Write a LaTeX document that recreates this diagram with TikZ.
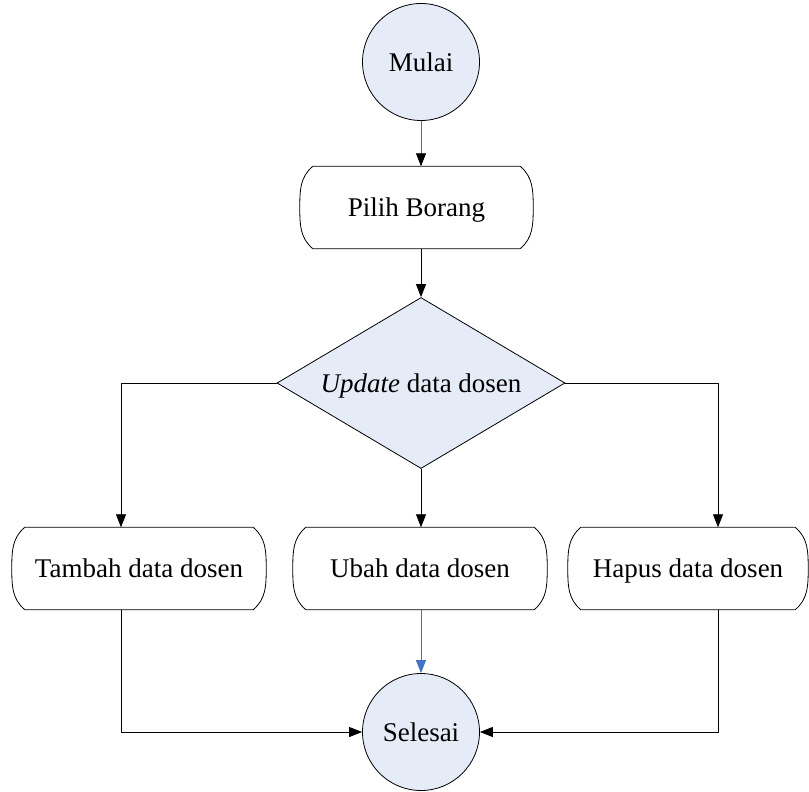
\documentclass[tikz,border=0pt]{standalone}
\usepackage{fontspec}
\setmainfont{Liberation Serif}
\usetikzlibrary{shapes.geometric,arrows.meta}
\definecolor{fillb}{HTML}{E6ECF7}
\definecolor{lineb}{HTML}{4472C4}
\newcommand{\fsz}{\fontsize{27}{31}\selectfont}
\tikzset{
  x=1pt, y=-1pt,
  term/.style={circle, draw, fill=fillb, minimum size=117pt, inner sep=0pt, font=\fsz, line width=0.8pt},
  dispbox/.style={rectangle, inner sep=0pt, minimum height=82pt, font=\fsz, text height=18pt, text depth=0pt},
  dec/.style={diamond, draw, fill=fillb, shape aspect=1.684, minimum width=288pt, minimum height=171pt, inner sep=0pt, font=\fsz, line width=0.8pt, text height=18pt, text depth=0pt},
  conn/.style={line width=0.8pt, -{Triangle[length=13pt,width=10pt]}},
  bconn/.style={line width=0.8pt, draw=lineb, -{Triangle[length=13pt,width=10pt,color=black]}},
  bbconn/.style={line width=0.8pt, draw=lineb, -{Triangle[length=13pt,width=10pt,color=lineb,fill=lineb]}},
}
\begin{document}
\begin{tikzpicture}
\useasboundingbox (0,0) rectangle (809,792);
\node[term] (start) at (421,62) {Mulai};
\node[dispbox, minimum width=233pt] (pb) at (416.5,207.5) {Pilih Borang};
\node[dec] (d) at (421,383) {\textit{Update} data dosen};
\node[dispbox, minimum width=254pt] (tb) at (139,568.5) {Tambah data dosen};
\node[dispbox, minimum width=254pt] (ub) at (420,568.5) {Ubah data dosen};
\node[dispbox, minimum width=240pt] (hb) at (688,568.5) {Hapus data dosen};
\node[term] (end) at (421,732) {Selesai};
\foreach \n in {pb,tb,ub,hb}{
  \draw[line width=0.8pt] ([xshift=13pt]\n.north west) -- ([xshift=-13pt]\n.north east)
    to[out=-40,in=90] (\n.east) to[out=-90,in=40] ([xshift=-13pt]\n.south east)
    -- ([xshift=13pt]\n.south west) to[out=140,in=-90] (\n.west) to[out=90,in=-140] cycle;
}
\draw[bconn] (start.south) -- (start.south |- pb.north);
\draw[conn] (d.north |- pb.south) -- (d.north);
\draw[conn] (d.west) -| ([xshift=-18pt]tb.north);
\draw[conn] (d.south) -- (d.south |- ub.north);
\draw[conn] (d.east) -| ([xshift=30pt]hb.north);
\draw[bbconn] (end.north |- ub.south) -- (end.north);
\draw[conn] ([xshift=-18pt]tb.south) |- (end.west);
\draw[conn] ([xshift=30pt]hb.south) |- (end.east);
\end{tikzpicture}
\end{document}
